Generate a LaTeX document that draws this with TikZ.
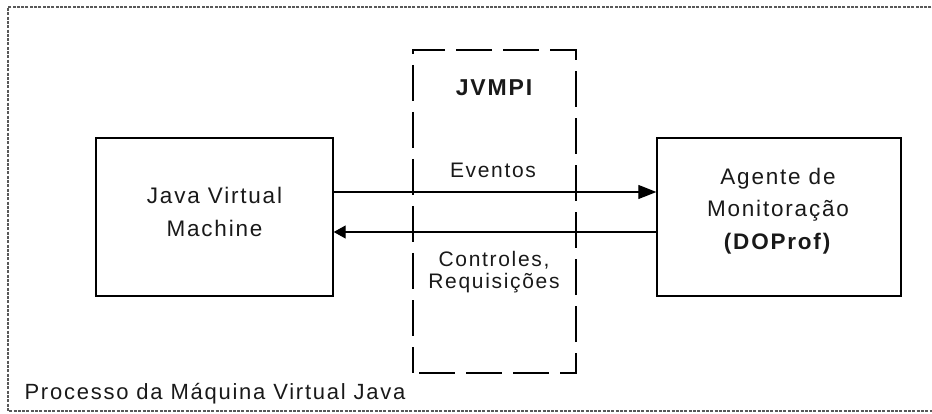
\documentclass[tikz,border=0pt]{standalone}
\usepackage{fontspec}
\setmainfont{Liberation Sans}[LetterSpace=8]
\usetikzlibrary{arrows.meta}
\begin{document}
\begin{tikzpicture}[x=1pt,y=-1pt,
  txt/.style={font=\fontsize{21}{32}\selectfont, text=black!90, align=center},
  boxtxt/.style={txt, font=\fontsize{22.5}{32.5}\selectfont},
  block/.style={draw, line width=1.4pt, inner sep=0pt},
  flow/.style={line width=1.3pt},
  apibox/.style={draw, line width=1.4pt, dash pattern=on 36pt off 11pt, dash phase=-6pt, inner sep=0pt},
  frame/.style={draw=black!65, line width=1.2pt, dash pattern=on 3pt off 1.3pt}
]
\useasboundingbox (0,0) rectangle (932,414);
% process frame (its right side runs past the edge)
\path[frame] (940,7) -- (8,7) -- (8,411) -- (940,411);

% JVMPI interface region
\node[apibox, minimum width=163pt, minimum height=323pt] (api) at (494.5,211.5) {};
\node[txt, font=\fontsize{23}{25}\selectfont\bfseries] (apilbl) at (494,88) {JVMPI};

% the two communicating parts
\node[block, minimum width=237pt, minimum height=158pt] (jvm) at (214.5,217) {};
\node[boxtxt] (jvmlbl) at (214.5,212) {Java Virtual\\Machine};
\node[block, minimum width=244pt, minimum height=158pt] (agent) at (779,217) {};
\node[boxtxt] (agentlbl) at (778,211) {Agente de\\Monitoração\\\textbf{(DOProf)}};

% events to the agent, control back to the VM
\draw[flow, -{Triangle[length=18pt,width=14pt]}] ([yshift=25pt]jvm.east) -- ([yshift=25pt]agent.west);
\draw[flow, -{Triangle[length=12pt,width=13pt]}] ([yshift=-15pt]agent.west) -- ([yshift=-15pt]jvm.east);
\node[txt] (evlbl) at (493,170) {Eventos};
\node[txt, font=\fontsize{21}{22.5}\selectfont] (ctlbl) at (494,272) {Controles,\\Requisições};

\node[txt, font=\fontsize{22}{26}\selectfont, anchor=west] (proclbl) at (21,394) {Processo da Máquina Virtual Java};
\end{tikzpicture}
\end{document}
